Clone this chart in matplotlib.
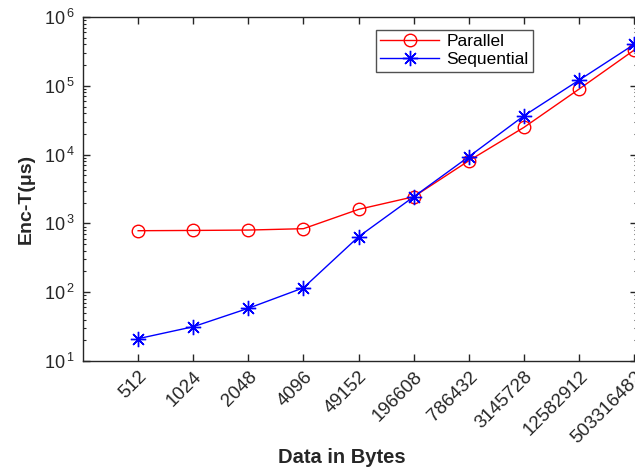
import matplotlib.pyplot as plt
import numpy as np
from matplotlib.ticker import FixedLocator, LogLocator, FuncFormatter, NullFormatter
from matplotlib.transforms import ScaledTranslation

plt.rcParams['font.family'] = ['Liberation Sans', 'DejaVu Sans']

# data sizes in bytes (x labels) and encryption time in microseconds
sizes = ['512', '1024', '2048', '4096', '49152', '196608', '786432',
         '3145728', '12582912', '503316482']
parallel = [783, 790, 800, 838, 1600, 2440, 8150, 24900, 89700, 331000]
sequential = [21.1, 31.5, 58.4, 116, 641, 2440, 9340, 36700, 121000, 401000]

x = np.arange(1, len(sizes) + 1)
dark = '#262626'

fig = plt.figure(figsize=(6.35, 4.73), dpi=100)
ax = fig.add_axes([83 / 635, 1 - 361 / 473, 554 / 635, 344 / 473])

ax.plot(x, parallel, color='red', lw=1, marker='o', ms=9, mfc='none',
        mec='red', mew=1, label='Parallel')
ax.plot(x, sequential, color='blue', lw=1, marker=(8, 2, 0), ms=11,
        mec='blue', mew=1, label='Sequential')

ax.set_yscale('log')
ax.set_ylim(10, 1e6)
ax.set_xlim(0, 10.05)

ax.xaxis.set_major_locator(FixedLocator(x))
ax.set_xticklabels(sizes, rotation=45, ha='right', va='top',
                   rotation_mode='anchor', fontsize=13.5, color=dark)
# nudge the rotated labels a little left
shift = ScaledTranslation(-5 / 100, 0, fig.dpi_scale_trans)
for lbl in ax.get_xticklabels():
    lbl.set_transform(lbl.get_transform() + shift)

ax.yaxis.set_major_locator(LogLocator(base=10, numticks=10))
ax.yaxis.set_minor_locator(LogLocator(base=10, subs=np.arange(2, 10), numticks=10))
ax.yaxis.set_minor_formatter(NullFormatter())
ax.yaxis.set_major_formatter(FuncFormatter(
    lambda v, p: r'$\mathregular{10^{\,%d}}$' % round(np.log10(v))))

ax.tick_params(axis='both', which='both', direction='in', top=True,
               right=True, colors=dark, labelcolor=dark)
ax.tick_params(axis='both', which='major', length=5, width=1)
ax.tick_params(axis='y', which='minor', length=2.5, width=0.8)
ax.tick_params(axis='y', labelsize=13, pad=6)
ax.tick_params(axis='x', pad=5)
for s in ax.spines.values():
    s.set_color(dark)
    s.set_linewidth(1)

ax.set_ylabel('Enc-T(μs)', fontsize=14, fontweight='bold', color=dark)
ax.yaxis.set_label_coords(-48 / 554, 0.47)
ax.set_xlabel('Data in Bytes', fontsize=14.5, fontweight='bold', color=dark)
ax.xaxis.set_label_coords((342 - 83) / 554, -(448 - 361) / 344)

leg = ax.legend(loc='upper left', bbox_to_anchor=((376 - 83) / 554, (361 - 30) / 344),
                fontsize=12.5, frameon=True, fancybox=False, handlelength=3.4,
                borderpad=0.25, labelspacing=0.15, handletextpad=0.4,
                borderaxespad=0)
leg.get_frame().set_edgecolor(dark)
leg.get_frame().set_linewidth(1)

fig.savefig('out.png', dpi=100)
